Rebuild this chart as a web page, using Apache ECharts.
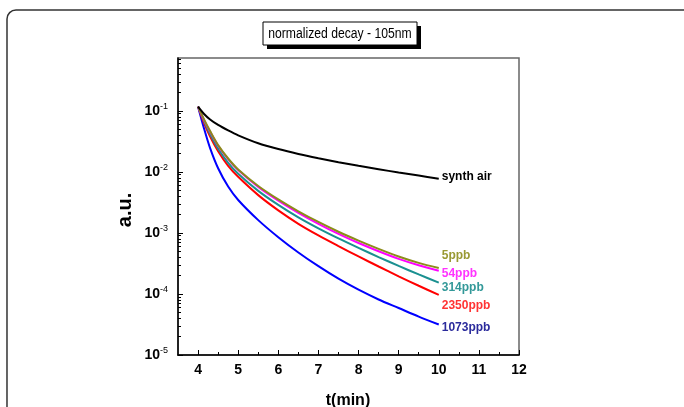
<!DOCTYPE html>
<html>
<head>
<meta charset="utf-8">
<script src="https://cdn.jsdelivr.net/npm/echarts@6/dist/echarts.min.js"></script>
<style>
  html, body { margin: 0; padding: 0; background: #fff; }
  #chart { width: 684px; height: 407px; }
</style>
</head>
<body>
<div id="chart"></div>
<script>
// time axis (min) shared by every trace
const t = [4, 4.15, 4.3, 4.5, 4.75, 5, 5.5, 6, 6.5, 7, 7.5, 8, 8.5, 9, 9.5, 10];

// log10 of the normalized signal
const synthAir = [-0.93, -1.05, -1.14, -1.23, -1.32, -1.40, -1.53, -1.625, -1.705, -1.775, -1.84, -1.90, -1.955, -2.01, -2.06, -2.11];
const ppb5     = [-0.93, -1.14, -1.33, -1.56, -1.78, -1.96, -2.23, -2.45, -2.645, -2.82, -2.98, -3.125, -3.26, -3.385, -3.49, -3.575];
const ppb54    = [-0.93, -1.15, -1.34, -1.57, -1.79, -1.97, -2.245, -2.47, -2.67, -2.85, -3.015, -3.165, -3.30, -3.425, -3.53, -3.62];
const ppb314   = [-0.93, -1.17, -1.38, -1.62, -1.85, -2.03, -2.31, -2.54, -2.745, -2.925, -3.09, -3.245, -3.395, -3.54, -3.68, -3.815];
const ppb2350  = [-0.93, -1.20, -1.42, -1.66, -1.90, -2.08, -2.38, -2.63, -2.85, -3.04, -3.215, -3.385, -3.55, -3.71, -3.865, -4.015];
const ppb1073  = [-0.93, -1.29, -1.61, -1.94, -2.24, -2.46, -2.79, -3.07, -3.32, -3.545, -3.75, -3.93, -4.09, -4.23, -4.37, -4.50];

const xTicks = [4, 5, 6, 7, 8, 9, 10, 11, 12];
const xMinorTicks = [4.5, 5.5, 6.5, 7.5, 8.5, 9.5, 10.5, 11.5];
const yDecades = [-5, -4, -3, -2, -1];

// log-spaced minor ticks 2..9 in each decade
const yMinorTicks = [];
yDecades.forEach(function (d) {
    for (let k = 2; k <= 9; k++) {
        const v = d + Math.log10(k);
        if (v < -0.133) yMinorTicks.push(v);
    }
});

function pairs(ys) {
    return t.map(function (x, i) { return [x, ys[i]]; });
}

function traceSeries(name, ys, color, labelColor, offset) {
    return {
        name: name,
        type: "line",
        data: pairs(ys),
        smooth: 0.3,
        showSymbol: false,
        lineStyle: { color: color, width: 2 },
        endLabel: {
            show: true,
            formatter: name,
            color: labelColor,
            fontFamily: "Liberation Sans",
            fontWeight: "bold",
            fontSize: 12,
            offset: offset,
            distance: 3,
        },
    };
}

let myChart = echarts.init(document.querySelector("#chart"));
option = {
    backgroundColor: "#fff",
    animation: false,
    grid: {
        left: 178,
        top: 58,
        right: 165,
        bottom: 52,
        show: true,
        borderColor: "#666",
        borderWidth: 1.5,
    },
    xAxis: [
        {
            type: "value",
            min: 3.5,
            max: 12,
            interval: 0.5,
            axisLine: { lineStyle: { color: "#000", width: 1.5 } },
            axisTick: { inside: true, length: 5, customValues: xTicks, lineStyle: { color: "#000" } },
            axisLabel: {
                customValues: xTicks,
                margin: 8,
                color: "#000",
                fontFamily: "Liberation Sans",
                fontWeight: "bold",
                fontSize: 14,
            },
            splitLine: { show: false },
        },
        {
            type: "value",
            min: 3.5,
            max: 12,
            interval: 0.5,
            position: "bottom",
            axisLine: { show: false },
            axisTick: { inside: true, length: 3, customValues: xMinorTicks, lineStyle: { color: "#000" } },
            axisLabel: { show: false },
            splitLine: { show: false },
        },
    ],
    yAxis: [
        {
            type: "value",
            min: -5,
            max: -0.133,
            interval: 1,
            axisLine: { lineStyle: { color: "#000", width: 1.5 } },
            axisTick: { inside: true, length: 5, customValues: yDecades, lineStyle: { color: "#000" } },
            axisLabel: {
                customValues: yDecades,
                margin: 10,
                formatter: function (v) {
                    return "{b|10}{s|" + v + "}";
                },
                rich: {
                    b: { fontFamily: "Liberation Sans", fontWeight: "bold", fontSize: 14, color: "#000" },
                    s: { fontFamily: "Liberation Sans", fontSize: 9, color: "#000", padding: [0, 0, 9, 0] },
                },
            },
            splitLine: { show: false },
        },
        {
            type: "value",
            min: -5,
            max: -0.133,
            interval: 1,
            position: "left",
            axisLine: { show: false },
            axisTick: { inside: true, length: 3, customValues: yMinorTicks, lineStyle: { color: "#000" } },
            axisLabel: { show: false },
            splitLine: { show: false },
        },
    ],
    graphic: [
        {
            type: "rect",
            shape: { x: 7, y: 10, width: 700, height: 420, r: 9 },
            style: { fill: "none", stroke: "#333", lineWidth: 1.5 },
            z: 0,
        },
        {
            type: "rect",
            shape: { x: 267, y: 26, width: 154, height: 23 },
            style: { fill: "#000" },
            z: 10,
        },
        {
            type: "rect",
            shape: { x: 263, y: 22, width: 154, height: 23 },
            style: { fill: "#fff", stroke: "#000", lineWidth: 1 },
            z: 11,
        },
        {
            type: "text",
            x: 340,
            y: 34,
            scaleX: 0.87,
            z: 12,
            style: {
                text: "normalized decay - 105nm",
                fill: "#000",
                font: "14px 'Liberation Sans'",
                align: "center",
                verticalAlign: "middle",
            },
        },
        {
            type: "text",
            x: 348,
            y: 401,
            style: {
                text: "t(min)",
                fill: "#000",
                font: "bold 16px 'Liberation Sans'",
                align: "center",
                verticalAlign: "middle",
            },
        },
        {
            type: "text",
            x: 125,
            y: 210,
            rotation: Math.PI / 2,
            style: {
                text: "a.u.",
                fill: "#000",
                font: "bold 20px 'Liberation Sans'",
                align: "center",
                verticalAlign: "middle",
            },
        },
    ],
    series: [
        traceSeries("1073ppb", ppb1073, "#0000ff", "#2b2b9c", [0, 3]),
        traceSeries("2350ppb", ppb2350, "#ff0000", "#ff3333", [0, 11]),
        traceSeries("314ppb", ppb314, "#1a9090", "#339999", [0, 5]),
        traceSeries("54ppb", ppb54, "#ff00ff", "#ff33ff", [0, 3]),
        traceSeries("5ppb", ppb5, "#8c8c1a", "#999933", [0, -12]),
        traceSeries("synth air", synthAir, "#000000", "#000000", [0, -2]),
    ],
};
myChart.setOption(option);
window.addEventListener("resize", function () {
    myChart.resize();
});
</script>
</body>
</html>
